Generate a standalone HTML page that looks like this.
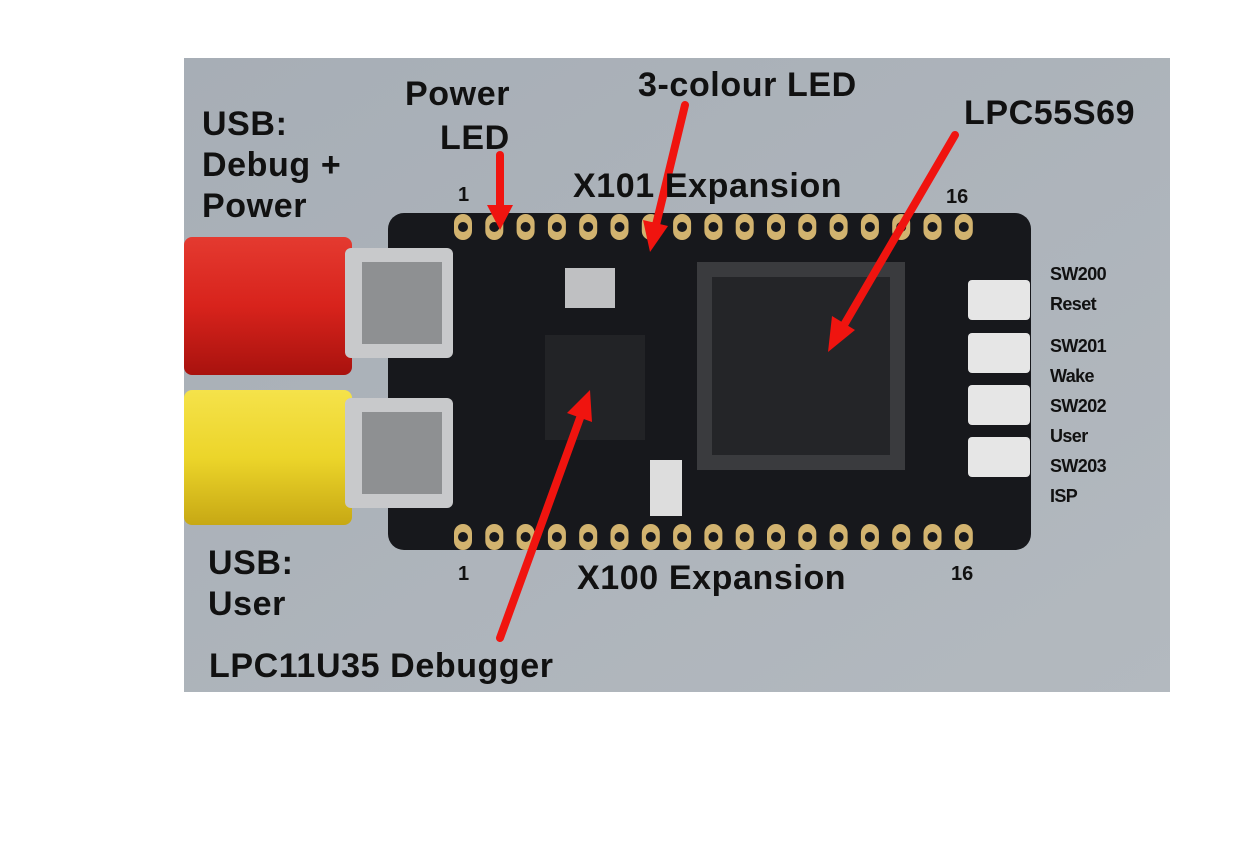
<!DOCTYPE html>
<html><head><style>
body{margin:0;width:1250px;height:844px;background:#fff;position:relative;overflow:hidden;font-family:"Liberation Sans",sans-serif}
.t{position:absolute;font-weight:bold;color:#111;line-height:1.15}
.b{font-size:34px;letter-spacing:0.6px;line-height:41px}
.s{font-size:18px;letter-spacing:-0.6px;line-height:30px}
</style></head><body>
<svg width="1250" height="844" style="position:absolute;left:0;top:0">
<defs>
<linearGradient id="g" x1="0" y1="0" x2="1" y2="1"><stop offset="0" stop-color="#a7aeb6"/><stop offset="1" stop-color="#b3b9bf"/></linearGradient>
<linearGradient id="r" x1="0" y1="0" x2="0" y2="1"><stop offset="0" stop-color="#e43a30"/><stop offset="0.5" stop-color="#d8231c"/><stop offset="1" stop-color="#a8120e"/></linearGradient>
<linearGradient id="y" x1="0" y1="0" x2="0" y2="1"><stop offset="0" stop-color="#f5e24a"/><stop offset="0.5" stop-color="#ecd52a"/><stop offset="1" stop-color="#c7a814"/></linearGradient>
</defs>
<rect x="184" y="58" width="986" height="634" fill="url(#g)"/>
<rect x="184" y="237" width="168" height="138" rx="8" fill="url(#r)"/>
<rect x="184" y="390" width="168" height="135" rx="8" fill="url(#y)"/>
<rect x="388" y="213" width="643" height="337" rx="16" fill="#17181c"/>
<g id="pads"></g>
<rect x="345" y="248" width="108" height="110" rx="6" fill="#c8c9cb"/>
<rect x="362" y="262" width="80" height="82" fill="#8e9092"/>
<rect x="345" y="398" width="108" height="110" rx="6" fill="#c8c9cb"/>
<rect x="362" y="412" width="80" height="82" fill="#8e9092"/>
<rect x="565" y="268" width="50" height="40" fill="#bfc0c2"/>
<rect x="545" y="335" width="100" height="105" fill="#222326"/>
<rect x="697" y="262" width="208" height="208" fill="#3a3b3e"/>
<rect x="712" y="277" width="178" height="178" fill="#242528"/>
<rect x="650" y="460" width="32" height="56" fill="#ddd"/>
<rect x="968" y="280" width="62" height="40" rx="4" fill="#e6e6e6"/>
<rect x="968" y="333" width="62" height="40" rx="4" fill="#e6e6e6"/>
<rect x="968" y="385" width="62" height="40" rx="4" fill="#e6e6e6"/>
<rect x="968" y="437" width="62" height="40" rx="4" fill="#e6e6e6"/>
<g stroke="#f0140f" stroke-width="8" fill="#f0140f" stroke-linecap="round">
<line x1="500" y1="155" x2="500" y2="208"/><polygon stroke="none" points="487,205 513,205 500,230"/>
<line x1="685" y1="105" x2="656" y2="225"/><polygon stroke="none" points="643,220 668,226 650,252"/>
<line x1="955" y1="135" x2="844" y2="325"/><polygon stroke="none" points="832,316 855,330 828,352"/>
<line x1="500" y1="638" x2="580" y2="418"/><polygon stroke="none" points="567,413 592,422 590,390"/>
</g>
</svg>
<script>
var s='';for(var i=0;i<17;i++){var x=463+i*31.3;s+='<rect x="'+(x-9)+'" y="214" width="18" height="26" rx="9" fill="#d2b36f"/><circle cx="'+x+'" cy="227" r="5" fill="#17181c"/>';s+='<rect x="'+(x-9)+'" y="524" width="18" height="26" rx="9" fill="#d2b36f"/><circle cx="'+x+'" cy="537" r="5" fill="#17181c"/>';}
document.getElementById('pads').innerHTML=s;
</script>
<div class="t b" style="left:202px;top:104px">USB:<br>Debug +<br>Power</div>
<div class="t b" style="left:405px;top:74px">Power</div>
<div class="t b" style="left:440px;top:118px">LED</div>
<div class="t b" style="left:638px;top:65px">3-colour LED</div>
<div class="t b" style="left:964px;top:93px">LPC55S69</div>
<div class="t b" style="left:573px;top:166px">X101 Expansion</div>
<div class="t" style="left:458px;top:184px;font-size:20px">1</div>
<div class="t" style="left:946px;top:186px;font-size:20px">16</div>
<div class="t s" style="left:1050px;top:259px">SW200<br>Reset</div>
<div class="t s" style="left:1050px;top:331px">SW201<br>Wake<br>SW202<br>User<br>SW203<br>ISP</div>
<div class="t b" style="left:208px;top:543px">USB:<br>User</div>
<div class="t" style="left:458px;top:563px;font-size:20px">1</div>
<div class="t" style="left:951px;top:563px;font-size:20px">16</div>
<div class="t b" style="left:577px;top:558px">X100 Expansion</div>
<div class="t b" style="left:209px;top:646px">LPC11U35 Debugger</div>
</body></html>
